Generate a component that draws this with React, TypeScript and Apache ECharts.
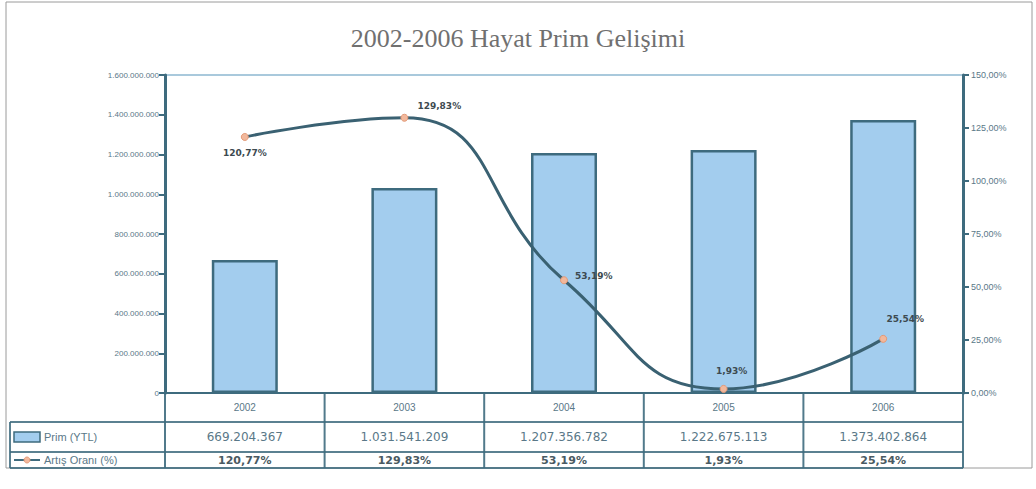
import React, { useEffect, useRef } from "react";
import * as echarts from "echarts";

const years = ["2002", "2003", "2004", "2005", "2006"];
const premiums = [669204367, 1031541209, 1207356782, 1222675113, 1373402864];
const growth = [120.77, 129.83, 53.19, 1.93, 25.54];
const leftTicks = { min: 0, max: 1600000000, interval: 200000000 };
const rightTicks = { min: 0, max: 150, interval: 25 };
const titleText = "2002-2006 Hayat Prim Gelişimi";
const seriesNames = ["Prim (YTL)", "Artış Oranı (%)"];

const fmtInt = (v: number) => String(Math.round(v)).replace(/\B(?=(\d{3})+(?!\d))/g, ".");
const fmtPct = (v: number) => v.toFixed(2).replace(".", ",") + "%";

const GL = 165, GR = 963, GT = 75, GB = 393;
const DARK = "#3e6b7e";
const TXT = "#5a7888";

export default function App() {
  const ref = useRef<HTMLDivElement>(null);
  useEffect(() => {
    if (!ref.current) return;
    const chart = echarts.init(ref.current, null, { renderer: "svg" });
    const colW = (GR - GL) / years.length;
    const labelPos: any[] = [
      { position: "bottom", distance: 8 },
      { position: "right", offset: [4, -12] },
      { position: "right", offset: [2, -4] },
      { position: "top", offset: [8, -4] },
      { position: "top", offset: [22, -6] },
    ];
    const graphics: any[] = [];
    graphics.push({ type: "rect", shape: { x: 6, y: 2, width: 1026, height: 466 }, style: { fill: "none", stroke: "#9a9a9a", lineWidth: 1 }, z: -1 });
    graphics.push({ type: "line", shape: { x1: GL, y1: GT, x2: GR, y2: GT }, style: { stroke: "#a9c9dc", lineWidth: 2 } });
    [422, 452, 468].forEach((y) => {
      graphics.push({ type: "line", shape: { x1: 10, y1: y, x2: GR, y2: y }, style: { stroke: DARK, lineWidth: 2, opacity: 0.85 } });
    });
    graphics.push({ type: "line", shape: { x1: 10, y1: 422, x2: 10, y2: 468 }, style: { stroke: DARK, lineWidth: 2, opacity: 0.85 } });
    for (let k = 0; k <= years.length; k++) {
      const x = GL + colW * k;
      graphics.push({ type: "line", shape: { x1: x, y1: GB, x2: x, y2: 468 }, style: { stroke: DARK, lineWidth: 2, opacity: 0.9 } });
    }
    graphics.push({ type: "rect", shape: { x: 14, y: 432, width: 26, height: 10 }, style: { fill: "#a3cdee", stroke: DARK, lineWidth: 1.5 } });
    graphics.push({ type: "text", x: 44, y: 437, style: { text: seriesNames[0], fill: TXT, font: "11px 'Liberation Sans'", verticalAlign: "middle" } });
    graphics.push({ type: "line", shape: { x1: 14, y1: 460, x2: 40, y2: 460 }, style: { stroke: DARK, lineWidth: 2 } });
    graphics.push({ type: "circle", shape: { cx: 27, cy: 460, r: 3 }, style: { fill: "#f2b89c", stroke: "#e39a78" } });
    graphics.push({ type: "text", x: 44, y: 460, style: { text: seriesNames[1], fill: TXT, font: "11px 'Liberation Sans'", verticalAlign: "middle" } });
    premiums.forEach((v, i) => {
      graphics.push({ type: "text", x: GL + colW * (i + 0.5), y: 437, style: { text: fmtInt(v), fill: TXT, font: "12px 'DejaVu Sans'", align: "center", verticalAlign: "middle" } });
    });
    growth.forEach((v, i) => {
      graphics.push({ type: "text", x: GL + colW * (i + 0.5), y: 460, style: { text: fmtPct(v), fill: "#4a5a62", font: "bold 11px 'DejaVu Sans'", align: "center", verticalAlign: "middle" } });
    });

    chart.setOption({
      animation: false,
      backgroundColor: "#ffffff",
      title: {
        text: titleText,
        left: "center",
        top: 20,
        textStyle: { fontFamily: "'Liberation Serif'", fontWeight: "normal", fontSize: 26, color: "#707070" },
      },
      grid: { left: GL, right: 1036 - GR, top: GT, bottom: 489 - GB },
      xAxis: {
        type: "category",
        data: years,
        axisLine: { lineStyle: { color: DARK, width: 2 } },
        axisTick: { show: false },
        axisLabel: { color: TXT, fontSize: 10, margin: 9, fontFamily: "'Liberation Sans'" },
      },
      yAxis: [
        {
          type: "value",
          min: leftTicks.min,
          max: leftTicks.max,
          interval: leftTicks.interval,
          axisLine: { show: true, lineStyle: { color: DARK, width: 3 } },
          axisTick: { show: true, length: 6, lineStyle: { color: DARK, width: 2 } },
          splitLine: { show: false },
          axisLabel: { color: TXT, fontSize: 8, fontFamily: "'Liberation Sans'", formatter: (v: number) => fmtInt(v), margin: 6 },
        },
        {
          type: "value",
          min: rightTicks.min,
          max: rightTicks.max,
          interval: rightTicks.interval,
          position: "right",
          axisLine: { show: true, lineStyle: { color: DARK, width: 3 } },
          axisTick: { show: true, length: 6, lineStyle: { color: DARK, width: 2 } },
          splitLine: { show: false },
          axisLabel: { color: TXT, fontSize: 9, fontFamily: "'Liberation Sans'", formatter: (v: number) => fmtPct(v), margin: 8 },
        },
      ],
      series: [
        {
          name: seriesNames[0],
          type: "bar",
          data: premiums,
          barWidth: 66,
          itemStyle: { color: "#a3cdee", borderColor: DARK, borderWidth: 2.5 },
        },
        {
          name: seriesNames[1],
          type: "line",
          yAxisIndex: 1,
          smooth: 0.5,
          data: growth.map((v, i) => ({ value: v, label: labelPos[i] })),
          symbol: "circle",
          symbolSize: 7,
          lineStyle: { color: "#3a6172", width: 3 },
          itemStyle: { color: "#f2b89c", borderColor: "#e39a78", borderWidth: 1 },
          label: {
            show: true,
            formatter: (p: any) => fmtPct(p.value),
            fontSize: 9,
            fontWeight: "bold",
            color: "#3d4a50",
            fontFamily: "'DejaVu Sans'",
          },
          z: 5,
        },
      ],
      graphic: graphics,
    });
    return () => chart.dispose();
  }, []);
  return <div ref={ref} style={{ position: "fixed", left: 0, top: 0, width: 1036, height: 489 }} />;
}
